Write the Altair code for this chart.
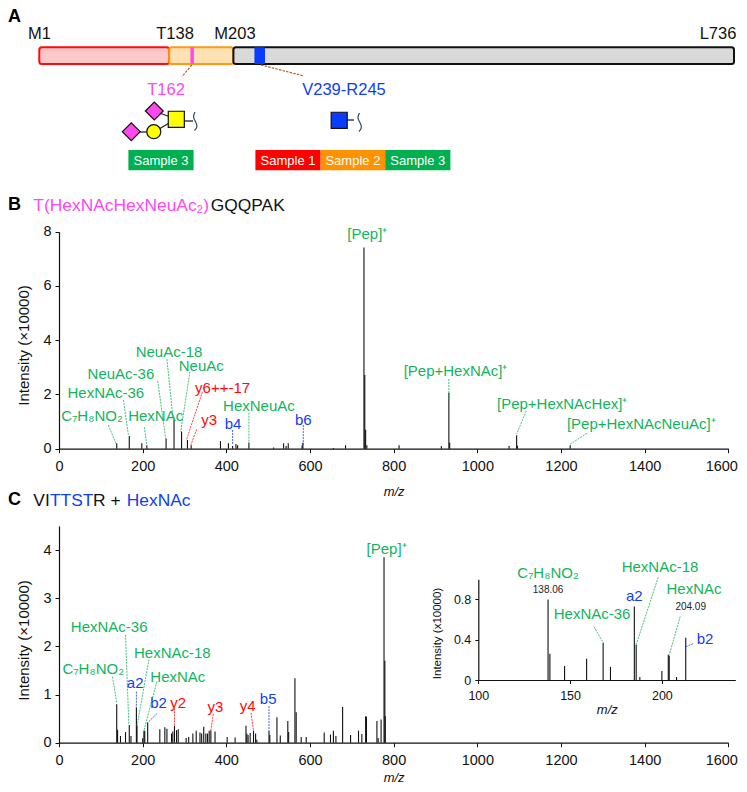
import altair as alt
import pandas as pd

W, H = 731, 776
FONT = "Liberation Sans"
GREEN, BLUE, RED, MAGENTA = "#12B45C", "#1040F0", "#FF0808", "#FF48F0"

# ---------- Panel B spectrum ----------
b_mz = [138,168,198,210,256,275,293,307,316,386,405,415,423,427,454,513,537,543,548,581,583,656,685,
        729,731,733,736,813,914,932,934,1076,1094,1096,1222]
b_int = [.2,.47,.2,.13,.38,1.06,.63,.32,.13,.28,.2,.1,.17,.13,.23,.04,.2,.1,.2,.12,.22,.03,.13,
         7.42,2.72,.7,.13,.13,.1,2.06,.22,.1,.5,.11,.13]
b_lab = ["[Pep]⁺","[Pep+HexNAc]⁺","[Pep+HexNAcHex]⁺","[Pep+HexNAcNeuAc]⁺","C₇H₈NO₂","HexNAc-36","NeuAc-36",
         "NeuAc-18","NeuAc","HexNAc","y6++-17","y3","b4","HexNeuAc","b6"]
b_lab_kind = ["g","g","g","g","g","g","g","g","g","g","y","y","b","g","b"]
b_lab_mz = [737,948,1203,1392,79,112,148,263,340,231,391,359,416,478,584]
b_lab_int = [7.95,2.9,1.68,.95,1.24,2.1,2.79,3.6,3.08,1.24,2.27,1.09,.95,1.62,1.09]
b_lead_kind = ["g","g","g","g","g","g","y","y","b","g","b","g","g","g"]
b_lead_mz = [118,154,236,258,313,204,343,329,415,454,584,932,1117,1262]
b_lead_int = [.87,1.79,2.5,3.3,2.84,.79,2.1,.71,.69,1.33,.87,2.57,1.39,.57]
b_lead_mz2 = [136,166,255,273,291,210,305,315,415,454,584,932,1094,1222]
b_lead_int2 = [.2,.5,.38,1.06,.63,.13,.34,.13,.13,.26,.13,1.8,.54,.17]

# ---------- Panel C spectrum ----------
c_mz = [138,140,147,159,168,172,185,186.5,200,203,205,212,241,253,258,269,272,276,281,285,304,310,320,328,
        337,341,346,351,355,359,363,373,402,421,447,449,452,457,465,470,473,502,504,521,529,547,549,564,567,
        579,591,634,649,656,662,678,697,716,724,733,735,760,763,770,777,779,780]
c_int = [.8,.27,.14,.22,.37,.14,.73,.35,.09,.25,.25,.42,.28,.32,.29,.19,.23,.35,.26,.28,.1,.12,.19,.25,
         .21,.19,.33,.19,.19,.25,.26,.23,.12,.11,.35,.19,.16,.2,.25,.19,.06,.25,.16,.53,.15,.45,.22,1.34,.63,
         .12,.12,.21,.17,.25,.14,.74,.16,.25,.18,.55,.54,.45,.1,.48,3.85,1.7,.55]
c_lab = ["[Pep]⁺","HexNAc-36","HexNAc-18","C₇H₈NO₂","HexNAc","a2","b2","y2","y3","y4","b5"]
c_lab_kind = ["g","g","g","g","g","b","b","y","y","y","b"]
c_lab_mz = [783,120,271,82,284,182,238,285,374,451,500]
c_lab_int = [4.05,2.43,1.89,1.56,1.38,1.27,.85,.85,.77,.78,.93]
c_lead_kind = ["g","g","g","g","b","b","y","y","y","b"]
c_lead_mz = [128,159,215,234,185,234,276,369,459,502]
c_lead_int = [1.37,2.24,1.73,1.27,1.06,.6,.71,.6,.62,.76]
c_lead_mz2 = [138,167,186.5,203,185,212,276,363,465,502]
c_lead_int2 = [.82,.37,.35,.25,.73,.42,.35,.26,.25,.25]

# ---------- Inset spectrum ----------
i_mz = [138,139,147,159,168,172,185,186,188,200,203.5,204,208,213]
i_int = [.8,.26,.14,.21,.37,.13,.73,.35,.03,.09,.25,.24,.03,.42]
i_lab = ["C₇H₈NO₂","HexNAc-36","a2","HexNAc-18","HexNAc","b2"]
i_lab_kind = ["g","g","b","g","g","b"]
i_lab_mz = [138,162,185,199,217.5,223.5]
i_lab_int = [1.07,.67,.84,1.13,.91,.42]
i_mass = ["138.06","204.09"]
i_mass_mz = [138,215.7]
i_mass_int = [.9,.73]
i_lead_kind = ["g","g","g","b"]
i_lead_mz = [163,198,210,217]
i_lead_int = [.53,1.02,.63,.36]
i_lead_mz2 = [168,186,204,213]
i_lead_int2 = [.37,.35,.25,.33]

# ---------- Panel A schematic ----------
dom_start = [1,138,203]
dom_end = [138,203,736]
dom_kind = ["n","m","c"]
site_start = [159.5,239]
site_end = [163,245]
site_kind = ["o","n"]
res_lab = ["M1","T138","M203","L736"]
res_x = [39.5,175,235,718]
res_y = [32.7]*4
sample_lab = ["Sample 3","Sample 1","Sample 2","Sample 3"]
sample_x1 = [128.4,255.4,320.6,385.2]
sample_x2 = [193.6,320.6,385.2,450.4]
sample_kind = ["3","1","2","3"]
sym_shape = ["diamond","diamond","square","circle","square"]
sym_fill = ["m","m","y","y","b"]
sym_x = [154.3,131.3,176.3,153.8,339.2]
sym_y = [111,131.7,119.3,131.7,120.3]
bond_x = [154,131,154,176,339]
bond_y = [111,132,132,121,120]
bond_x2 = [176,154,176,193,354]
bond_y2 = [119,132,119,121,120]
squig_x = [195,192.6,196,197.6,194.5, 359.5,357,360.5,362,359]
squig_y = [112,117,122,127,130.5, 113,118,123,128,131.5]
squig_id = [0]*5+[1]*5
link_x = [191.7,261]
link_y = [65,65]
link_x2 = [182,304]
link_y2 = [76.7,76]
site_lab = ["T162","V239-R245"]
site_lab_x = [166,344]
site_lab_y = [89.3,89.3]
site_lab_kind = ["m","b"]

# panel letters and peptide titles
letters = ["A","B","C"]
letter_x = [8,8,8]
letter_y = [17,205,500]
title_parts = ["T(HexNAcHexNeuAc₂)","GQQPAK","VI","TTST","R +","HexNAc"]
title_x = [33.3,210.7,33.3,50,93,126.7]
title_y = [205,205,500,500,500,500]
title_col = ["m","k","k","b","k","b"]

# ---------- scale geometry ----------
def pos_x(a, b):  # page px to chart px
    return [a-8, b-8]
PANEL = {
    "B": dict(xd=[0,1600], xr=pos_x(59,728.3), yd=[0,8], yr=pos_x(448.7,231.7)),
    "C": dict(xd=[0,1600], xr=pos_x(59,728.3), yd=[0,4.5], yr=pos_x(742.7,526)),
    "I": dict(xd=[100,240], xr=pos_x(478.3,735.3), yd=[0,1], yr=pos_x(680,579.3)),
}
def X(p, f="mz", **kw):
    g = PANEL[p]
    return alt.X(f, type="quantitative", scale=alt.Scale(domain=g["xd"], range=g["xr"], nice=False, zero=False),
                 axis=kw.pop("axis", None), title=kw.pop("title", None))
def Y(p, f="v", **kw):
    g = PANEL[p]
    return alt.Y(f, type="quantitative", scale=alt.Scale(domain=g["yd"], range=g["yr"], nice=False, zero=False),
                 axis=kw.pop("axis", None), title=kw.pop("title", None))
SX = alt.Scale(domain=[8,739], range=[0,731], nice=False, zero=False)
SY = alt.Scale(domain=[8,784], range=[0,776], nice=False, zero=False)
def PXs(f="x"): return alt.X(f, type="quantitative", scale=SX, axis=None)
def PYs(f="y"): return alt.Y(f, type="quantitative", scale=SY, axis=None)
kind_color = alt.Color("k:N", legend=None, scale=alt.Scale(domain=["g","y","b"], range=[GREEN,RED,BLUE]))

def spectrum(p, mz, vals, xticks, yticks, xtitle_y, ytitle, ytitle_xy, sizes, sw=1.1):
    g = PANEL[p]
    df = pd.DataFrame({"mz": mz, "v": vals, "base": [0]*len(mz)})
    ax_common = dict(grid=False, domainColor="#111", tickColor="#111", labelColor="#111", titleColor="#111",
                     labelFont=FONT, titleFont=FONT, domainWidth=1.2, tickWidth=1, tickSize=sizes["tick"],
                     labelFontSize=sizes["lab"], labelOverlap=False, labelBound=False, labelFlush=False,
                     labelExpr="'' + datum.value")
    xaxis = alt.Axis(orient="bottom", values=xticks, offset=-(H-g["yr"][0]), labelPadding=sizes["xpad"], title="m/z",
                     titleFontStyle="italic", titleFontWeight="normal", titleFontSize=13,
                     titleBaseline="middle", titleY=xtitle_y,
                     labelOffset=alt.expr("datum.value === 1600 ? -7 : 0"), **ax_common)
    yaxis = alt.Axis(orient="left", values=yticks, offset=-g["xr"][0], labelPadding=4, title=ytitle,
                     titleFontWeight="normal", titleFontSize=sizes["title"],
                     titleX=ytitle_xy[0], titleY=ytitle_xy[1], titleBaseline="middle", **ax_common)
    return alt.Chart(df).mark_rule(color="#111", strokeWidth=sw).encode(
        x=X(p, axis=xaxis, title="m/z"),
        y=Y(p, axis=yaxis, title=ytitle),
        y2=alt.Y2("base"),
    )

def leaders(p, kind, m1, v1, m2, v2):
    df = pd.DataFrame({"k": kind, "mz": m1, "v": v1, "m2": m2, "v2": v2})
    return alt.Chart(df).mark_rule(strokeWidth=0.8, strokeDash=[2,1]).encode(
        x=X(p), y=Y(p), x2=alt.X2("m2"), y2=alt.Y2("v2"), color=kind_color)

def labels(p, names, kind, m, v, size=15):
    df = pd.DataFrame({"t": names, "k": kind, "mz": m, "v": v})
    return alt.Chart(df).mark_text(font=FONT, fontSize=size, align="center", baseline="middle", dy=1).encode(
        x=X(p), y=Y(p), text="t:N", color=kind_color)

layers = []
# Panel B
layers += [
    spectrum("B", b_mz, b_int, list(range(0,1601,200)), [0,2,4,6,8], 42.3, "Intensity (×10000)", (-36,337),
             dict(tick=4, lab=14.5, title=15, xpad=7)),
    leaders("B", b_lead_kind, b_lead_mz, b_lead_int, b_lead_mz2, b_lead_int2),
    labels("B", b_lab, b_lab_kind, b_lab_mz, b_lab_int),
]
# Panel C
layers += [
    spectrum("C", c_mz, c_int, list(range(0,1601,200)), [0,1,2,3,4], 34.5, "Intensity (×10000)", (-36,632),
             dict(tick=4, lab=14.5, title=15, xpad=7)),
    leaders("C", c_lead_kind, c_lead_mz, c_lead_int, c_lead_mz2, c_lead_int2),
    labels("C", c_lab, c_lab_kind, c_lab_mz, c_lab_int),
]
# Inset
layers += [
    spectrum("I", i_mz, i_int, [100,150,200], [0,.4,.8], 29, "Intensity (x10000)", (-41,625),
             dict(tick=3.5, lab=12.5, title=11.5, xpad=6)),
    leaders("I", i_lead_kind, i_lead_mz, i_lead_int, i_lead_mz2, i_lead_int2),
    labels("I", i_lab, i_lab_kind, i_lab_mz, i_lab_int),
    alt.Chart(pd.DataFrame({"t": i_mass, "mz": i_mass_mz, "v": i_mass_int})).mark_text(
        font=FONT, fontSize=10, color="#222", baseline="middle", dy=1).encode(x=X("I"), y=Y("I"), text="t:N"),
]

# Panel A: protein domains on a residue scale (drawing is not to scale)
RES = alt.Scale(domain=[1,138,203,239,245,736], range=[31.3,161.2,225.4,246.4,257,726], nice=False, zero=False)
dom_df = pd.DataFrame({"s": dom_start, "e": dom_end, "k": dom_kind})
y_bar = alt.Scale(domain=[0,1], range=[56,39.3], nice=False, zero=False)
dom_df["y0"], dom_df["y1"] = 0, 1
layers.append(alt.Chart(dom_df).mark_rect(cornerRadius=2.5, strokeWidth=2).encode(
    x=alt.X("s:Q", scale=RES, axis=None), x2="e:Q",
    y=alt.Y("y0:Q", scale=y_bar, axis=None), y2="y1:Q",
    fill=alt.Fill("k:N", legend=None, scale=alt.Scale(domain=["n","m","c"], range=["#FFC8C8","#FFE2B4","#D9D9D9"])),
    stroke=alt.Stroke("k:N", legend=None, scale=alt.Scale(domain=["n","m","c"], range=["#FF0A0A","#FF9A10","#111111"])),
))
site_df = pd.DataFrame({"s": site_start, "e": site_end, "k": site_kind, "y0": 0, "y1": 1})
layers.append(alt.Chart(site_df).mark_rect(cornerRadius=1).encode(
    x=alt.X("s:Q", scale=RES, axis=None), x2="e:Q",
    y=alt.Y("y0:Q", scale=y_bar, axis=None), y2="y1:Q",
    fill=alt.Fill("k:N", legend=None, scale=alt.Scale(domain=["o","n"], range=[MAGENTA,"#0A3CFF"])),
))
# dashed links, site labels and residue labels
link_df = pd.DataFrame({"x": link_x, "y": link_y, "x2": link_x2, "y2": link_y2})
layers.append(alt.Chart(link_df).mark_rule(color="#A8682C", strokeWidth=1.2, strokeDash=[2.5,1.2]).encode(
    x=PXs(), y=PYs(), x2=alt.X2("x2"), y2=alt.Y2("y2")))
layers.append(alt.Chart(pd.DataFrame({"t": res_lab, "x": res_x, "y": res_y})).mark_text(
    font=FONT, fontSize=16.5, color="#111", baseline="middle", dy=1).encode(x=PXs(), y=PYs(), text="t:N"))
pal = alt.Color("k:N", legend=None, scale=alt.Scale(domain=["m","b","k"], range=[MAGENTA,"#1040F0","#111111"]))
layers.append(alt.Chart(pd.DataFrame({"t": site_lab, "x": site_lab_x, "y": site_lab_y, "k": site_lab_kind})).mark_text(
    font=FONT, fontSize=16.5, baseline="middle", dy=1).encode(x=PXs(), y=PYs(), text="t:N", color=pal))
# glycan cartoons
bond_df = pd.DataFrame({"x": bond_x, "y": bond_y, "x2": bond_x2, "y2": bond_y2})
layers.append(alt.Chart(bond_df).mark_rule(color="#222", strokeWidth=1.3).encode(
    x=PXs(), y=PYs(), x2=alt.X2("x2"), y2=alt.Y2("y2")))
squig_df = pd.DataFrame({"x": squig_x, "y": squig_y, "id": squig_id, "o": range(len(squig_x))})
layers.append(alt.Chart(squig_df).mark_line(color="#2F4A6B", strokeWidth=1.2, interpolate="basis").encode(
    x=PXs(), y=PYs(), detail="id:N", order="o:Q"))
sym_df = pd.DataFrame({"x": sym_x, "y": sym_y, "k": sym_fill, "s": sym_shape})
layers.append(alt.Chart(sym_df).mark_point(filled=True, opacity=1, stroke="#111", strokeWidth=1.2).encode(
    x=PXs(), y=PYs(),
    shape=alt.Shape("s:N", legend=None, scale=alt.Scale(domain=["diamond","square","circle"], range=["diamond","square","circle"])),
    fill=alt.Fill("k:N", legend=None, scale=alt.Scale(domain=["m","y","b"], range=[MAGENTA,"#FFFF00","#0A3CFF"])),
    size=alt.Size("s:N", legend=None, scale=alt.Scale(domain=["diamond","square","circle"], range=[320,196,280])),
))
# sample boxes
samp_df = pd.DataFrame({"t": sample_lab, "x": sample_x1, "x2": sample_x2, "k": sample_kind, "y": 150, "y2": 170.3})
samp_df["c"] = (samp_df["x"]+samp_df["x2"])/2
samp_df["m"] = (samp_df["y"]+samp_df["y2"])/2
layers.append(alt.Chart(samp_df).mark_rect().encode(
    x=PXs(), x2="x2:Q", y=PYs(), y2="y2:Q",
    fill=alt.Fill("k:N", legend=None, scale=alt.Scale(domain=["1","2","3"], range=["#FF0000","#FF9200","#00B050"]))))
layers.append(alt.Chart(samp_df).mark_text(font=FONT, fontSize=13, color="white", baseline="middle", dy=0.5).encode(
    x=PXs("c"), y=PYs("m"), text="t:N"))
# letters and coloured peptide titles
layers.append(alt.Chart(pd.DataFrame({"t": letters, "x": letter_x, "y": letter_y})).mark_text(
    font=FONT, fontSize=18, fontWeight="bold", color="black", align="left", baseline="middle").encode(x=PXs(), y=PYs(), text="t:N"))
layers.append(alt.Chart(pd.DataFrame({"t": title_parts, "x": title_x, "y": title_y, "k": title_col})).mark_text(
    font=FONT, fontSize=17.4, align="left", baseline="middle", dy=1).encode(x=PXs(), y=PYs(), text="t:N", color=pal))

chart = alt.layer(*layers).resolve_scale(
    x="independent", y="independent", color="independent", fill="independent", stroke="independent",
    shape="independent", size="independent"
).properties(
    width=W, height=H, padding=0, autosize=alt.AutoSizeParams(type="none"), background="white"
).configure_view(strokeWidth=0)

chart.save("out.html", embed_options={"renderer": "svg", "actions": False})
